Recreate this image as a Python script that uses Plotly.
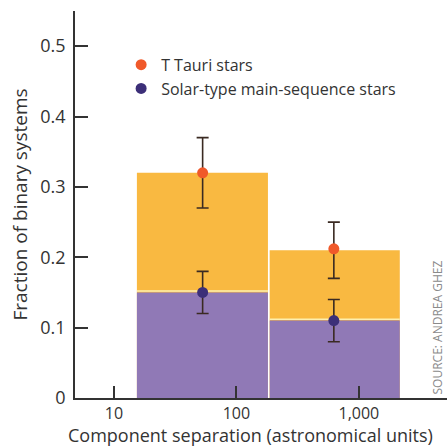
import plotly.graph_objects as go

# Data
bin_lo = [15.4, 187]
bin_hi = [181, 2160]
ttauri_frac = [0.32, 0.21]
solar_frac = [0.15, 0.11]

pt_x = [53, 625]
ttauri_pt = [0.32, 0.212]
ttauri_err_plus = [0.05, 0.038]
ttauri_err_minus = [0.05, 0.042]
solar_pt = [0.15, 0.11]
solar_err_plus = [0.03, 0.03]
solar_err_minus = [0.03, 0.03]

x_tickvals = [10, 100, 1000]
x_ticktext = ["10", "100", "1,000"]

ORANGE_BAR = "#F9B941"
PURPLE_BAR = "#9079B6"
ORANGE_PT = "#F0592A"
PURPLE_PT = "#3C2F78"
ERR = "#3A2A22"
AX = "#333333"
FONT = "Open Sans"

fig = go.Figure()

for lo, hi, v in zip(bin_lo, bin_hi, ttauri_frac):
    fig.add_trace(go.Scatter(x=[lo, lo, hi, hi, lo], y=[0, v, v, 0, 0],
                             fill="toself", fillcolor=ORANGE_BAR, mode="lines",
                             line=dict(width=0), showlegend=False, hoverinfo="skip"))
for lo, hi, v in zip(bin_lo, bin_hi, solar_frac):
    fig.add_trace(go.Scatter(x=[lo, lo, hi, hi, lo], y=[0, v, v, 0, 0],
                             fill="toself", fillcolor=PURPLE_BAR, mode="lines",
                             line=dict(width=0), showlegend=False, hoverinfo="skip"))
    fig.add_trace(go.Scatter(x=[lo, hi], y=[v + 0.002, v + 0.002], mode="lines",
                             line=dict(width=1.5, color="#FDF0B0"), showlegend=False,
                             hoverinfo="skip"))

fig.add_trace(go.Scatter(x=pt_x, y=ttauri_pt, mode="markers", name="T Tauri stars",
                         marker=dict(size=11, color=ORANGE_PT),
                         error_y=dict(type="data", symmetric=False, array=ttauri_err_plus,
                                      arrayminus=ttauri_err_minus, color=ERR,
                                      thickness=1.6, width=6)))
fig.add_trace(go.Scatter(x=pt_x, y=solar_pt, mode="markers",
                         name="Solar-type main-sequence stars",
                         marker=dict(size=11, color=PURPLE_PT),
                         error_y=dict(type="data", symmetric=False, array=solar_err_plus,
                                      arrayminus=solar_err_minus, color=ERR,
                                      thickness=1.6, width=6)))

fig.add_annotation(text="SOURCE: ANDREA GHEZ", xref="paper", yref="paper",
                   x=1.0, y=0.0, xanchor="right", yanchor="bottom", xshift=0, yshift=1,
                   textangle=-90, showarrow=False,
                   font=dict(family=FONT, size=12, color="#8a8a8a"))

fig.add_annotation(text="Component separation (astronomical units)",
                   xref="paper", yref="paper", x=(250 - 75) / 372, y=-(434.5 - 398) / 387,
                   xanchor="center", yanchor="middle", showarrow=False,
                   font=dict(family=FONT, size=18, color=AX))

fig.update_layout(
    width=447, height=447,
    margin=dict(l=75, r=0, t=11, b=49),
    paper_bgcolor="white", plot_bgcolor="white",
    font=dict(family=FONT, color=AX),
    legend=dict(x=0.124, y=0.905, xanchor="left", yanchor="top",
                bgcolor="rgba(0,0,0,0)", font=dict(size=16, color=AX),
                itemwidth=30),
    xaxis=dict(type="log", range=[0.682, 3.72], tickvals=x_tickvals,
               ticktext=x_ticktext, ticks="inside", ticklen=12, tickwidth=1.5,
               tickcolor=AX, showline=True, linecolor=AX, linewidth=1.5,
               showgrid=False, zeroline=False, tickfont=dict(size=16, color=AX),
               ticklabelstandoff=0),
    yaxis=dict(range=[0, 0.55], dtick=0.1, tick0=0, ticks="inside", ticklen=13,
               tickwidth=1.5, tickcolor=AX, showline=True, linecolor=AX,
               linewidth=1.5, showgrid=False, zeroline=False,
               tickfont=dict(size=18, color=AX), ticklabelstandoff=4,
               title=dict(text="Fraction of binary systems",
                          font=dict(size=19, color=AX), standoff=8)),
)

fig.write_html("out.html")
